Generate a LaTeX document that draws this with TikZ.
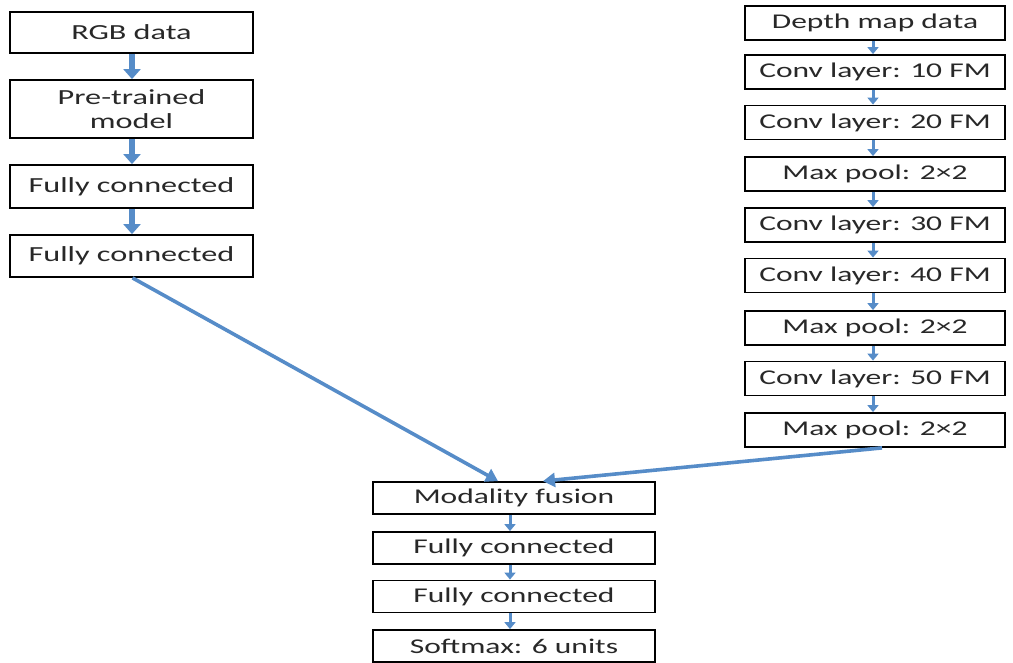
\documentclass[tikz,border=0pt]{standalone}
\usepackage{fontspec}
\setmainfont{Carlito}[FakeStretch=1.5]
\usetikzlibrary{arrows.meta}
\definecolor{flowblue}{RGB}{86,140,200}
\definecolor{labelgray}{RGB}{40,40,40}
\tikzset{
  layer/.style={draw=black, line width=1.8pt, fill=white, inner sep=0pt, align=center, text=labelgray},
  leftbox/.style={layer, minimum width=243pt, font=\fontsize{21.5}{23.5}\selectfont},
  rightbox/.style={layer, minimum width=260pt, minimum height=34pt, font=\fontsize{21}{23}\selectfont},
  midbox/.style={layer, minimum width=282pt, minimum height=32pt, font=\fontsize{21}{23}\selectfont},
  thickflow/.style={draw=flowblue, line width=6pt, -{Triangle[width=17pt,length=10pt]}},
  thinflow/.style={draw=flowblue, line width=3pt, -{Triangle[width=11pt,length=7pt]}},
  joinflow/.style={draw=flowblue, line width=3.6pt, -{Triangle[width=14pt,length=12pt]}}
}
\begin{document}
\begin{tikzpicture}[x=1pt, y=-1pt]
\useasboundingbox (0,0) rectangle (1013,663);

% RGB branch
\node[leftbox, minimum height=41pt] (rgb)  at (131.5,32.5) {RGB data};
\node[leftbox, minimum height=58pt] (pre)  at (131.5,109)  {Pre-trained\\model};
\node[leftbox, minimum height=43pt] (fca)  at (131.5,186.5) {Fully connected};
\node[leftbox, minimum height=42pt] (fcb)  at (131.5,256)  {Fully connected};

% depth branch
\node[rightbox] (dep) at (875,23)    {Depth map data};
\node[rightbox] (c10) at (875,72)    {Conv layer: 10 FM};
\node[rightbox] (c20) at (875,122.5) {Conv layer: 20 FM};
\node[rightbox] (mp1) at (875,174)   {Max pool: 2×2};
\node[rightbox] (c30) at (875,225)   {Conv layer: 30 FM};
\node[rightbox] (c40) at (875,275.5) {Conv layer: 40 FM};
\node[rightbox] (mp2) at (875,328)   {Max pool: 2×2};
\node[rightbox] (c50) at (875,378.5) {Conv layer: 50 FM};
\node[rightbox] (mp3) at (875,430)   {Max pool: 2×2};

% fused head
\node[midbox] (fus) at (514,498)   {Modality fusion};
\node[midbox] (fc1) at (514,548)   {Fully connected};
\node[midbox] (fc2) at (514,596.5) {Fully connected};
\node[midbox] (sft) at (514,646)   {Softmax: 6 units};

% RGB arrows
\foreach \a/\b in {rgb/pre, pre/fca, fca/fcb}
  \draw[thickflow] ([xshift=0.5pt]\a.south) -- ([xshift=0.5pt]\b.north);

% depth arrows
\foreach \a/\b in {dep/c10, c10/c20, c20/mp1, mp1/c30, c30/c40, c40/mp2, mp2/c50, c50/mp3}
  \draw[thinflow] ([xshift=-2pt]\a.south) -- ([xshift=-2pt]\b.north);

% head arrows
\foreach \a/\b in {fus/fc1, fc1/fc2, fc2/sft}
  \draw[thinflow] ([xshift=-4pt]\a.south) -- ([xshift=-4pt]\b.north);

% merging arrows
\draw[joinflow] ([xshift=1pt]fcb.south) -- ([xshift=-16pt]fus.north);
\draw[joinflow] ([xshift=7pt]mp3.south) -- ([xshift=29pt]fus.north);
\end{tikzpicture}
\end{document}
